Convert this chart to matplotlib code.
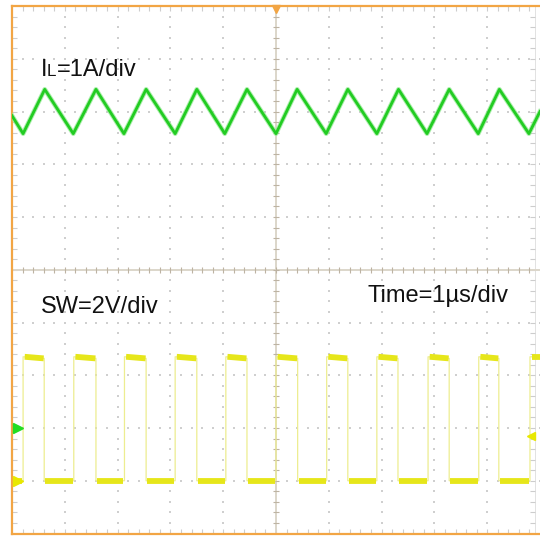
import matplotlib
matplotlib.use("Agg")
import matplotlib.pyplot as plt
import numpy as np
from matplotlib.transforms import offset_copy

TIME_DIV_US = 1.0          # Time = 1 us/div
IL_A_PER_DIV = 1.0         # IL = 1 A/div
SW_V_PER_DIV = 2.0         # SW = 2 V/div
IL_ZERO_DIV = -3.0         # channel ground markers (divisions from centre)
SW_ZERO_DIV = -4.0
SW_TRIG_V = 1.68           # trigger level marker on SW

# inductor current vertices (us, A)
IL_TIME_US = [0.00, 0.21, 0.62, 1.16, 1.59, 2.12, 2.54, 3.09, 3.50, 4.03, 4.45,
              5.00, 5.40, 5.95, 6.36, 6.91, 7.32, 7.86, 8.28, 8.83, 9.23, 9.79, 10.00]
IL_AMPS = [5.92, 5.58, 6.42, 5.58, 6.42, 5.58, 6.42, 5.58, 6.42, 5.58, 6.42,
           5.58, 6.42, 5.58, 6.42, 5.58, 6.42, 5.58, 6.42, 5.58, 6.42, 5.58, 6.00]

# switch node edges (us) and levels (V)
SW_RISE_US = [0.21, 1.17, 2.13, 3.09, 4.05, 5.00, 5.96, 6.91, 7.88, 8.84, 9.81]
SW_FALL_US = [0.61, 1.59, 2.54, 3.50, 4.45, 5.41, 6.36, 7.31, 8.28, 9.22]
SW_HIGH_START_V = 4.70
SW_HIGH_END_V = 4.64
SW_LOW_V = 0.0
T_END_US = 10.0

LABEL_IL = ("I", "L", "=1A/div")
LABEL_SW = "SW=2V/div"
LABEL_TIME = "Time=1\u00b5s/div"

# ---------------- styling ----------------
ORANGE = "#F2A544"
GREEN = "#22CC22"
GREEN_HALO = "#8BE88B"
YELLOW = "#E6E61A"
YELLOW_EDGE = "#EDED90"
GRID_DOT = "#CFCFCF"
TICK = "#CDCDCD"
CROSS = "#DCD6CA"
CROSS_TICK = "#BDB3A3"
FONT = "Liberation Sans"

fig = plt.figure(figsize=(5.4, 5.36), dpi=100)
fig.patch.set_facecolor("white")
ax = fig.add_axes([12 / 540, 2.5 / 536, 528 / 540, 527.5 / 536])
ax.set_xlim(0, 10)
ax.set_ylim(-5, 5)
ax.set_xticks([])
ax.set_yticks([])
for s in ("left", "top", "bottom"):
    ax.spines[s].set_color(ORANGE)
    ax.spines[s].set_linewidth(1.6)
ax.spines["right"].set_visible(False)

px = 10 / 528.0  # data units per pixel (both axes approx)
minor = np.arange(0, 10.0001, 0.2)

# dotted graticule
for k in [1, 2, 3, 4, 6, 7, 8, 9]:
    ax.scatter(np.full(minor.size, k), minor - 5, s=1.3, marker="s", color=GRID_DOT,
               linewidths=0, zorder=1)
for k in [-4, -3, -2, -1, 1, 2, 3, 4]:
    ax.scatter(minor, np.full(minor.size, k), s=1.3, marker="s", color=GRID_DOT,
               linewidths=0, zorder=1)

# edge ticks
inner = minor[1:-1]
ax.vlines(inner, 5 - 5 * px, 5, color=TICK, lw=0.8, zorder=1)
ax.vlines(inner, -5, -5 + 5 * px, color=TICK, lw=0.8, zorder=1)
ax.hlines(inner - 5, 0, 5 * px, color=TICK, lw=0.8, zorder=1)
xr = 523 * px
ax.vlines([xr], -5, 5, color="#E2E2E2", lw=0.7, zorder=1)
ax.hlines(inner - 5, xr - 5 * px, xr, color=TICK, lw=0.8, zorder=1)

# centre cross
ax.axvline(5, color=CROSS, lw=1.4, zorder=1.5)
ax.axhline(0, color=CROSS, lw=1.4, zorder=1.5)
ax.vlines(inner, -3 * px, 3 * px, color=CROSS_TICK, lw=0.8, zorder=1.6)
ax.hlines(inner - 5, 5 - 3 * px, 5 + 3 * px, color=CROSS_TICK, lw=0.8, zorder=1.6)

# ---------------- IL trace ----------------
t_il = np.array(IL_TIME_US) / TIME_DIV_US
y_il = IL_ZERO_DIV + np.array(IL_AMPS) / IL_A_PER_DIV
ax.plot(t_il, y_il, color=GREEN_HALO, lw=3.4, alpha=0.7, zorder=3, solid_joinstyle="round")
ax.plot(t_il, y_il, color=GREEN, lw=2.0, zorder=3.1, solid_joinstyle="round")

# ---------------- SW trace ----------------
def sw_div(v):
    return SW_ZERO_DIV + v / SW_V_PER_DIV

t_sw = [0.0]
v_sw = [SW_LOW_V]
for i, r in enumerate(SW_RISE_US):
    t_sw += [r, r]
    v_sw += [SW_LOW_V, SW_HIGH_START_V]
    if i < len(SW_FALL_US):
        t_sw += [SW_FALL_US[i], SW_FALL_US[i]]
        v_sw += [SW_HIGH_END_V, SW_LOW_V]
t_sw.append(T_END_US)
v_sw.append(SW_HIGH_START_V)
ax.plot(np.array(t_sw) / TIME_DIV_US, [sw_div(v) for v in v_sw], color=YELLOW_EDGE,
        lw=0.9, zorder=2.5)

# flat (noisy, thick) parts
lows = [(0.0, SW_RISE_US[0])] + [(f, SW_RISE_US[i + 1]) for i, f in enumerate(SW_FALL_US)]
highs = [(r, SW_FALL_US[i]) for i, r in enumerate(SW_RISE_US[:-1])]
for a, b in lows:
    ax.plot([a + 0.02, b - 0.02], [sw_div(SW_LOW_V)] * 2, color=YELLOW, lw=4.2,
            solid_capstyle="butt", zorder=2.6)
for a, b in highs:
    ax.plot([a + 0.03, b - 0.01], [sw_div(SW_HIGH_START_V), sw_div(SW_HIGH_END_V)],
            color=YELLOW, lw=4.2, solid_capstyle="butt", zorder=2.6)
ax.plot([SW_RISE_US[-1] + 0.03, T_END_US], [sw_div(SW_HIGH_START_V)] * 2, color=YELLOW,
        lw=4.2, solid_capstyle="butt", zorder=2.6)

# ---------------- markers ----------------
ax.plot(0.12, IL_ZERO_DIV, marker=">", color="#22DD22", ms=7, clip_on=False, zorder=4)
ax.plot(0.12, SW_ZERO_DIV, marker=">", color="#E8E800", ms=7, clip_on=False, zorder=4)
ax.plot(xr - 4 * px, sw_div(SW_TRIG_V), marker="<", color="#E8E800", ms=6, zorder=4)
ax.plot(5, 5 - 3 * px, marker="v", color=ORANGE, ms=6, clip_on=False, zorder=4)

# ---------------- labels ----------------
fs = 17
base = dict(fontsize=fs, family=FONT, color="#111111", va="baseline", ha="left", zorder=5)
x_lab = 29 * px
ax.text(x_lab, (270 - 76) / 52.8, LABEL_IL[0], **base)
ax.text(x_lab, (270 - 76) / 52.8, LABEL_IL[1],
        transform=offset_copy(ax.transData, fig=fig, x=6, y=0, units="dots"),
        **{**base, "fontsize": fs * 0.72})
ax.text(x_lab, (270 - 76) / 52.8, LABEL_IL[2],
        transform=offset_copy(ax.transData, fig=fig, x=16, y=0, units="dots"), **base)
ax.text(x_lab, (270 - 313) / 52.8, LABEL_SW, **base)
ax.text((368 - 12) * px, (270 - 302) / 52.8, LABEL_TIME, **base)

fig.savefig("out.png", dpi=100)
